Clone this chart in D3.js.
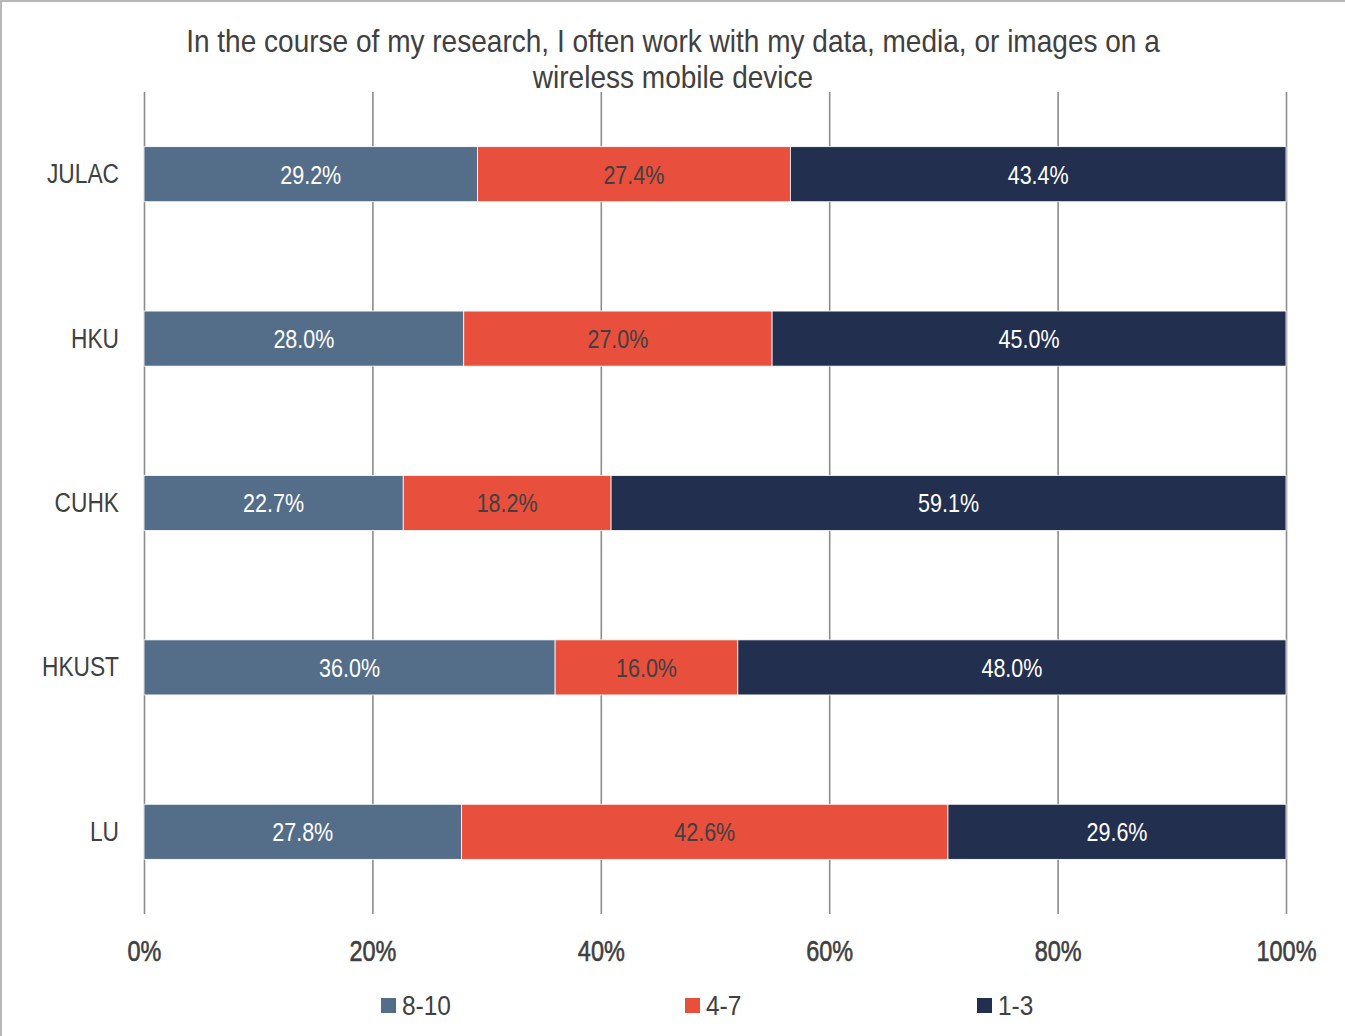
<!DOCTYPE html>
<html>
<head>
<meta charset="utf-8">
<script src="https://cdn.jsdelivr.net/npm/d3@7"></script>
<style>
  html, body { margin: 0; padding: 0; background: #fff; }
  svg { display: block; }
  text { font-family: "Liberation Sans", Arial, sans-serif; }
</style>
</head>
<body>
<svg id="chart" width="1345" height="1036"></svg>
<script>
const titleLines = ["In the course of my research, I often work with my data, media, or images on a", "wireless mobile device"];
const categories = ["JULAC", "HKU", "CUHK", "HKUST", "LU"];
const seriesNames = ["8-10", "4-7", "1-3"];
const values810 = [29.2, 28.0, 22.7, 36.0, 27.8];
const values47 = [27.4, 27.0, 18.2, 16.0, 42.6];
const values13 = [43.4, 45.0, 59.1, 48.0, 29.6];
const tickValues = [0, 0.2, 0.4, 0.6, 0.8, 1.0];
const tickLabels = ["0%", "20%", "40%", "60%", "80%", "100%"];
const colors = ["#546e8a", "#e84f3d", "#232f4e"];
const labelColors = ["#ffffff", "#404040", "#ffffff"];

const seriesValues = [values810, values47, values13];
const rows = categories.map((c, i) => {
  const r = { cat: c };
  seriesNames.forEach((s, j) => r[s] = seriesValues[j][i] / 100);
  return r;
});
const stacked = d3.stack().keys(seriesNames)(rows);

const svg = d3.select("#chart");

// horizontally condense a text selection so that its sample node matches a target width
function condense(sel, sampleNode, targetWidth) {
  const w = sampleNode.getComputedTextLength();
  const f = w > 0 ? targetWidth / w : 1;
  sel.each(function () {
    const t = d3.select(this);
    const x0 = +(t.attr("x") || 0);
    t.attr("x", x0 / f).attr("transform", `scale(${f},1)`);
  });
}

// outer frame
svg.append("rect").attr("x", 1).attr("y", 1).attr("width", 1400).attr("height", 1100)
  .attr("fill", "none").attr("stroke", "#a0a0a0").attr("stroke-width", 1.5);

const x = d3.scaleLinear().domain([0, 1]).range([144, 1286]);
const y = d3.scaleBand().domain(categories).range([92, 914]).paddingInner(0.665).paddingOuter(0.3325);

// gridlines / x axis
const xAxis = d3.axisBottom(x).tickValues(tickValues).tickFormat((d, i) => tickLabels[i])
  .tickSize(-(914 - 92)).tickPadding(26);
const gx = svg.append("g").attr("transform", "translate(0,914)").call(xAxis);
gx.select(".domain").remove();
gx.selectAll(".tick line").attr("stroke", "#8c8c8c").attr("stroke-width", 1.6);
const xt = gx.selectAll(".tick text").attr("fill", "#404040").attr("font-size", 29)
  .attr("stroke", "#404040").attr("stroke-width", 0.6)
  .style("font-family", '"Liberation Sans", Arial, sans-serif');
condense(xt, xt.nodes()[5], 60);

// y axis labels
const yAxis = d3.axisLeft(y).tickSize(0).tickPadding(25);
const gy = svg.append("g").attr("transform", "translate(144,0)").call(yAxis);
gy.select(".domain").remove();
const yt = gy.selectAll(".tick text").attr("fill", "#404040").attr("font-size", 28)
  .style("font-family", '"Liberation Sans", Arial, sans-serif');
condense(yt, yt.nodes()[0], 72);

// bars
const layers = svg.append("g").selectAll("g").data(stacked).join("g")
  .attr("fill", (d, i) => colors[i]);
layers.selectAll("rect").data(d => d.map(p => ({ p, key: d.key }))).join("rect")
  .attr("x", d => x(d.p[0]))
  .attr("y", d => y(d.p.data.cat))
  .attr("width", d => x(d.p[1]) - x(d.p[0]))
  .attr("height", y.bandwidth())
  .attr("stroke", "#ffffff").attr("stroke-width", 0.8);

// bar labels
const labelGroups = [];
stacked.forEach((layer, i) => {
  const g = svg.append("g");
  g.selectAll("text").data(layer).join("text")
    .attr("x", d => (x(d[0]) + x(d[1])) / 2)
    .attr("y", d => y(d.data.cat) + y.bandwidth() / 2)
    .attr("dy", "0.36em")
    .attr("text-anchor", "middle")
    .attr("fill", labelColors[i])
    .attr("font-size", 26)
    .text(d => ((d[1] - d[0]) * 100).toFixed(1) + "%");
  labelGroups.push(g);
});
const firstLabel = labelGroups[0].select("text").node();
labelGroups.forEach(g => condense(g.selectAll("text"), firstLabel, 61));

// title
const tt = svg.append("g").selectAll("text").data(titleLines).join("text")
  .attr("x", 673).attr("y", (d, i) => 52 + i * 36)
  .attr("text-anchor", "middle").attr("fill", "#404040").attr("font-size", 31)
  .text(d => d);
condense(tt, tt.nodes()[0], 974);

// legend
const legendX = [381, 685, 977];
const lg = svg.append("g").selectAll("g").data(seriesNames).join("g")
  .attr("transform", (d, i) => `translate(${legendX[i]},998)`);
lg.append("rect").attr("width", 15).attr("height", 15).attr("fill", (d, i) => colors[i]);
const lt = lg.append("text").attr("x", 21).attr("y", 17).attr("fill", "#404040").attr("font-size", 28).text(d => d);
condense(lt, lt.nodes()[0], 49);
</script>
</body>
</html>
